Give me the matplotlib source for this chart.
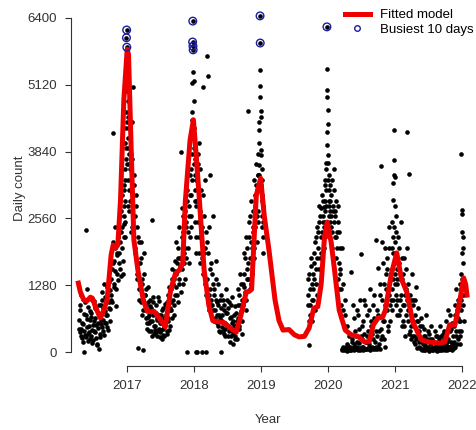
import numpy as np
import pandas as pd
import matplotlib
matplotlib.use("Agg")
import matplotlib.pyplot as plt
from matplotlib.lines import Line2D

plt.rcParams['font.family'] = ['Liberation Sans', 'DejaVu Sans']

# daily counts, each list is one stretch of days
counts_2016 = [620, 380, 900, 450, 260, 1020, 540, 0, 330, 710, 2340, 480, 220, 860, 390, 610,
               300, 750, 180, 520, 980, 410, 650, 260, 830, 140, 560, 60, 700, 350,
               900, 480, 1150, 620, 330, 780, 1050, 560, 1250, 700, 420, 950, 1180, 820,
               1400, 960, 1700, 4190, 1250, 2000, 1550, 880, 1850, 2250, 1380,
               1900, 2600, 1450, 2300, 3000, 1750, 2450, 2800]
counts_2016_b = [450, 800, 300, 1100, 560, 200, 720, 400, 950, 280, 640, 1200, 350, 500, 780, 240,
                 680, 420, 1000, 230, 600, 850, 380, 520, 150, 740, 460, 900, 280, 540,
                 620, 1000, 400, 850, 1300, 550, 700, 950, 480, 1100, 850, 1350, 600, 1000,
                 1100, 1600, 2100, 1300, 1750, 2400, 1200, 1900, 1500, 2200, 1700,
                 2100, 1600, 2700, 2000, 2400, 1500, 3200, 2200]
peak_2017 = [2200, 3100, 2600, 3500, 2900, 4000, 3300, 2500, 4300, 3700,
             4600, 5000, 3900, 6020, 6170, 5840, 4400, 3600, 5200, 4800,
             3900, 4500, 3300, 4100, 2800, 3600, 4300, 3100, 3800, 2700]
counts_2017 = [3500, 4100, 2900, 3700, 2400, 5080, 3200,
               2600, 1900, 3000, 1500, 2200, 80, 1200,
               1700, 950, 2100, 1300, 40, 800, 1500,
               1100, 650, 900, 450, 1250, 700, 550,
               880, 400, 2530, 600, 1050, 350, 720,
               500, 900, 300, 650, 420, 980, 560,
               380, 700, 250, 850, 450, 300, 600,
               520, 900, 350, 1100, 650, 420, 800,
               1200, 800, 1600, 1000, 1400, 700, 1750,
               1500, 2100, 1100, 1800, 1300, 2400, 1650,
               3830, 2760, 1600, 2300, 1900, 2700, 1400,
               2500, 0, 3100, 2000, 2800, 3400, 2200]
counts_2017_b = [2900, 3800, 2300, 4400, 3000, 2600, 3400,
                 2000, 2800, 1400, 2400, 1700, 1000, 2100,
                 1200, 1800, 700, 1400, 1000, 1900, 1100,
                 800, 1200, 550, 950, 680, 400, 1000,
                 600, 850, 300, 700, 950, 500, 420,
                 750, 380, 620, 1050, 450, 700, 280,
                 560, 420, 800, 320, 650, 500, 920,
                 700, 400, 950, 600, 1250, 500, 850,
                 950, 1400, 650, 1300, 900, 1550, 1100,
                 1250, 1700, 950, 2000, 1400, 1800, 1150,
                 1800, 2200, 1300, 2600, 1700, 2000, 2400,
                 1800, 2900, 2300, 2600, 1700, 3000, 2400]
peak_2018 = [2600, 3500, 3000, 4200, 3300, 4450, 3800, 5150, 4600, 5940,
             6340, 5860, 5790, 5370, 4810, 3900, 5190, 4300, 3600, 4160,
             3400, 2900, 3700, 2500, 3100, 2200, 2800, 3300, 1900, 0]
counts_2018 = [2900, 0, 3600, 2200, 4000, 1700, 3100,
               2400, 0, 5080, 1900, 3300, 1300, 0,
               5670, 2100, 5290, 1100, 3390, 1600, 900,
               1500, 800, 2600, 1200, 650, 1750, 1000,
               950, 500, 1300, 700, 380, 1100, 0,
               600, 1000, 350, 800, 450, 1200, 520,
               750, 300, 950, 480, 200, 680, 1050,
               400, 150, 700, 300, 880, 520, 250,
               650, 1200, 450, 900, 1500, 780, 350,
               1300, 900, 1900, 1150, 2200, 800, 1600,
               4620, 1700, 2500, 1200, 2100, 2900, 1500,
               2300, 3300, 1800, 2800, 3600, 2100, 3100]
counts_2018_b = [3300, 2500, 3800, 1900, 2700, 3500, 2300,
                 1800, 3000, 1500, 2600, 2000, 1100, 2300,
                 1400, 1900, 800, 2400, 1200, 1700, 1000,
                 900, 1300, 600, 1100, 800, 1400, 700,
                 550, 900, 400, 1000, 650, 850, 480,
                 700, 400, 900, 550, 300, 750, 1000,
                 500, 850, 400, 650, 300, 900, 550,
                 600, 350, 500, 250, 750, 450, 600,
                 900, 500, 1100, 700, 1300, 600, 1000,
                 1000, 1500, 1250, 1800, 1000, 1400, 2000,
                 1400, 2200, 1800, 2600, 1300, 2000, 2400,
                 2700, 2000, 3000, 2400, 3200, 2600, 3400]
peak_2019 = [2700, 3400, 2500, 3800, 3100, 4000, 3580, 4250, 3390, 4400,
             5100, 4890, 6440, 5920, 5400, 4620, 3880, 4500, 3780, 3200,
             3500, 2900, 3300, 2600, 3000, 2400, 2800, 2200, 1900, 2500]
counts_2019 = [900, 1400, 130, 700, 1200, 1650, 600,
               1500, 1000, 1900, 800, 1300, 2200, 1100,
               2000, 1600, 2500, 1300, 2760, 1900, 2300,
               2600, 2000, 2780]
counts_2019_b = [1100, 600, 1500, 900, 1800, 1000, 1300,
                 1200, 1700, 1400, 2100, 1600, 2400, 1800,
                 2300, 2800, 1800, 2600, 2200, 3000, 2500,
                 2900, 2400, 3200]
peak_2020 = [2200, 2900, 2500, 3300, 2700, 3100, 2400, 3500, 2800, 3620,
             4220, 5420, 6230, 5020, 4890, 3970, 4640, 4370, 3780, 3300,
             3620, 2900, 3400, 2600, 3100, 2300, 2800, 3200, 2500, 2700]
counts_2020 = [2900, 2400, 3300, 2000, 2700, 3500, 2200,
               2600, 1800, 2300, 1400, 2800, 1200, 2000,
               1600, 900, 60, 1300, 100, 50, 700,
               40, 90, 500, 30, 120, 300, 70,
               80, 1530, 200, 50, 650, 150, 400,
               300, 100, 800, 60, 450, 180, 1000,
               1880, 250, 100, 600, 350, 50, 900,
               200, 700, 80, 400, 150, 1200, 300,
               500, 100, 900, 250, 650, 60, 400,
               2150, 300, 1610, 700, 150, 1100, 450,
               3560, 2100, 600, 1300, 250, 900, 1500,
               800, 1800, 400, 2400, 1100, 600, 1400]
counts_2020_b = [2600, 3000, 2300, 2800, 2500, 3100, 2700,
                 2200, 2900, 2000, 2500, 1700, 2300, 1500,
                 1200, 2000, 40, 800, 80, 30, 1000,
                 60, 20, 150, 50, 80, 30, 100,
                 40, 250, 70, 900, 30, 100, 60,
                 50, 200, 30, 700, 80, 40, 300,
                 70, 500, 40, 100, 1000, 60, 200,
                 50, 300, 60, 800, 100, 40, 600,
                 80, 350, 50, 1100, 70, 200, 100,
                 60, 800, 90, 400, 1300, 50, 250,
                 1000, 300, 1700, 600, 100, 2000, 1200,
                 1600, 500, 1200, 2000, 900, 1500, 1000]
peak_2021 = [1200, 2000, 800, 1600, 2500, 1000, 1900, 3240, 1400, 2200,
             2910, 4250, 1700, 3390, 2400, 3680, 1300, 2800, 1900, 3350,
             2100, 1500, 2600, 1100, 1800, 900, 2300, 1400, 700, 1600]
counts_2021 = [1300, 2200, 700, 1700, 1000, 2500, 500,
               1400, 600, 1800, 900, 300, 1200, 2000,
               4220, 800, 3410, 400, 1100, 250, 1500,
               600, 1000, 200, 700, 150, 1250, 400,
               300, 850, 100, 500, 60, 650, 200,
               150, 450, 40, 300, 700, 90, 250,
               60, 350, 20, 180, 500, 80, 250,
               30, 200, 400, 50, 120, 300, 20,
               100, 250, 40, 500, 160, 30, 350,
               70, 400, 150, 30, 600, 200, 90,
               250, 50, 700, 120, 450, 30, 300,
               500, 80, 900, 300, 1200, 150, 650, 400]
counts_2021_b = [1000, 1600, 2000, 800, 1400, 1100, 1800,
                 900, 1500, 500, 1100, 1600, 700, 1000,
                 600, 1300, 350, 900, 500, 1000, 300,
                 900, 300, 500, 1000, 250, 600, 80,
                 600, 200, 400, 80, 250, 500, 40,
                 60, 300, 120, 30, 200, 50, 400,
                 100, 30, 250, 60, 150, 40, 80,
                 200, 50, 100, 300, 30, 80, 150,
                 40, 180, 60, 100, 300, 50, 120,
                 250, 50, 80, 350, 40, 120, 800,
                 60, 400, 100, 200, 50, 550, 150,
                 200, 700, 100, 400, 800, 250, 1000, 600]
peak_2022 = [300, 900, 150, 1300, 600, 1000, 400, 1500, 800, 1200,
             3790, 2720, 2650, 1900, 2300, 1400, 2000, 2200, 1100, 1700,
             900, 1300, 600]

# (first day, days between readings, counts)
stretches = [("2016-04-12", 4, counts_2016), ("2016-04-14", 4, counts_2016_b),
             ("2016-12-15", 1, peak_2017),
             ("2017-01-14", 4, counts_2017), ("2017-01-16", 4, counts_2017_b),
             ("2017-12-15", 1, peak_2018),
             ("2018-01-14", 4, counts_2018), ("2018-01-16", 4, counts_2018_b),
             ("2018-12-15", 1, peak_2019),
             ("2019-09-12", 4, counts_2019), ("2019-09-14", 4, counts_2019_b),
             ("2019-12-15", 1, peak_2020),
             ("2020-01-14", 4, counts_2020), ("2020-01-16", 4, counts_2020_b),
             ("2020-12-15", 1, peak_2021),
             ("2021-01-14", 4, counts_2021), ("2021-01-16", 4, counts_2021_b),
             ("2021-12-21", 1, peak_2022)]

# fitted model
fit_year = [2016.27, 2016.30, 2016.35, 2016.40, 2016.45, 2016.48, 2016.53, 2016.60, 2016.65, 2016.70,
            2016.76, 2016.79, 2016.83, 2016.86, 2016.90, 2016.95, 2017.00, 2017.02, 2017.06, 2017.10,
            2017.16, 2017.24, 2017.30, 2017.35, 2017.40, 2017.45, 2017.57, 2017.65, 2017.72, 2017.78,
            2017.83, 2017.87, 2017.94, 2017.99, 2018.03, 2018.08, 2018.15, 2018.22, 2018.28, 2018.38,
            2018.45, 2018.55, 2018.63, 2018.70, 2018.78, 2018.82, 2018.86, 2018.93, 2018.995, 2019.05,
            2019.12, 2019.21, 2019.27, 2019.33, 2019.42, 2019.50, 2019.57, 2019.65, 2019.72, 2019.79,
            2019.85, 2019.90, 2019.95, 2019.99, 2020.05, 2020.10, 2020.17, 2020.26, 2020.35, 2020.45,
            2020.55, 2020.62, 2020.68, 2020.75, 2020.82, 2020.86, 2020.95, 2021.03, 2021.10, 2021.18,
            2021.27, 2021.40, 2021.52, 2021.67, 2021.75, 2021.82, 2021.90, 2021.97, 2022.03, 2022.06,
            2022.08]
fit_count = [1320, 1150, 1000, 980, 1050, 1030, 850, 650, 800, 1000,
             1860, 2050, 2000, 2050, 2900, 4830, 5800, 5700, 3870, 2150,
             1570, 1000, 780, 770, 780, 700, 480, 1190, 1500, 1570,
             1700, 2900, 4060, 4450, 3800, 2900, 1570, 900, 600, 575,
             560, 450, 380, 700, 1150, 1160, 1200, 3000, 3330, 2600,
             1950, 1000, 600, 420, 430, 330, 290, 300, 460, 840,
             870, 1300, 2200, 2490, 2100, 1570, 800, 420, 330, 300,
             190, 200, 520, 650, 670, 800, 1500, 1900, 1400, 1150,
             575, 230, 190, 170, 190, 520, 520, 960, 1420, 1300,
             1090]

frames = []
for start, step, vals in stretches:
    d = pd.Timestamp(start) + pd.to_timedelta(np.arange(len(vals)) * step, unit="D")
    frames.append(pd.DataFrame({"date": d, "count": vals}))
df = pd.concat(frames, ignore_index=True)
days_in_year = np.where(df["date"].dt.is_leap_year, 366, 365)
df["year"] = df["date"].dt.year + (df["date"].dt.dayofyear - 1) / days_in_year
busiest = df.nlargest(10, "count")

fig = plt.figure(figsize=(4.77, 4.30), dpi=100)
ax = fig.add_axes([71/477, 1 - 360/430, 404/477, 350/430])

ax.scatter(df["year"], df["count"], s=11, color="black", linewidths=0, zorder=2)
ax.plot(fit_year, fit_count, color="#ee0000", lw=3.6, zorder=3)
ax.scatter(busiest["year"], busiest["count"], s=30, facecolors="none",
           edgecolors="#1c1ca0", linewidths=1.0, zorder=4)

ax.set_xlim(2016.16, 2022.2)
ax.set_ylim(-153, 6553)
ax.set_xticks(range(2017, 2023))
ax.set_yticks([0, 1280, 2560, 3840, 5120, 6400])

for s in ["top", "right"]:
    ax.spines[s].set_visible(False)
ax.spines["left"].set_bounds(0, 6400)
ax.spines["bottom"].set_bounds(2017, 2022)
ax.spines["bottom"].set_position(("outward", 4.3))
for s in ["left", "bottom"]:
    ax.spines[s].set_color("#333333")
    ax.spines[s].set_linewidth(0.8)
ax.tick_params(length=4, width=0.8, pad=6, labelsize=9.5, colors="#333333")

fig.text(268/477, 1 - 420/430, "Year", ha="center", va="center", fontsize=9.5, color="#333333")
fig.text(20/477, 1 - 188/430, "Daily count", ha="center", va="center", rotation=90,
         fontsize=9.5, color="#333333")

handles = [Line2D([], [], color="#ee0000", lw=3.6),
           Line2D([], [], ls="none", marker="o", ms=4, mfc="none", mec="#1c1ca0", mew=1.0)]
fig.legend(handles, ["Fitted model", "Busiest 10 days"], loc="upper right",
           bbox_to_anchor=(474/477, 1 - 9/430), frameon=False, fontsize=9.5,
           handlelength=1.9, handletextpad=0.8, labelspacing=0.2, borderpad=0, borderaxespad=0)

fig.savefig("out.png", dpi=100)
